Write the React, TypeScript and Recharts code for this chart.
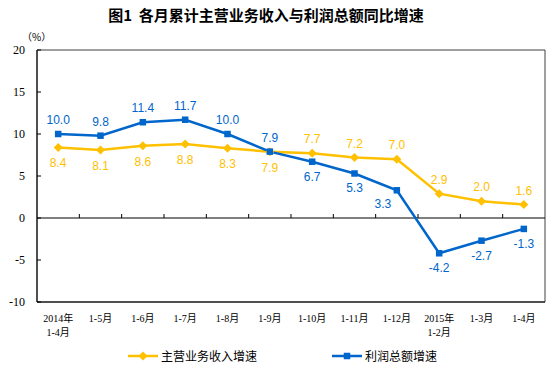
import React from 'react';
import {
  LineChart,
  Line,
  XAxis,
  YAxis,
  ReferenceLine,
  ReferenceArea,
  Legend,
  LabelList,
} from 'recharts';

const categories = [
  '2014年\n1-4月',
  '1-5月',
  '1-6月',
  '1-7月',
  '1-8月',
  '1-9月',
  '1-10月',
  '1-11月',
  '1-12月',
  '2015年\n1-2月',
  '1-3月',
  '1-4月',
];
const revenueGrowth = [8.4, 8.1, 8.6, 8.8, 8.3, 7.9, 7.7, 7.2, 7.0, 2.9, 2.0, 1.6];
const profitGrowth = [10.0, 9.8, 11.4, 11.7, 10.0, 7.9, 6.7, 5.3, 3.3, -4.2, -2.7, -1.3];
const yTicks = [-10, -5, 0, 5, 10, 15, 20];
const revenueLabelSide = ['below', 'below', 'below', 'below', 'below', 'below', 'above', 'above', 'above', 'above', 'above', 'above'];
const profitLabelSide = ['above', 'above', 'above', 'above', 'above', 'above', 'below', 'below', 'belowLeft', 'below', 'below', 'below'];

const seriesNames = { revenue: '主营业务收入增速', profit: '利润总额增速' };

const YELLOW = '#FFC000';
const BLUE = '#0066CC';

const data = categories.map((name, i) => ({
  name,
  revenue: revenueGrowth[i],
  profit: profitGrowth[i],
}));

const Diamond = (props: any) => {
  const { cx, cy } = props;
  if (cx == null || cy == null) return null;
  const r = 4.5;
  return (
    <path
      d={`M${cx},${cy - r} L${cx + r},${cy} L${cx},${cy + r} L${cx - r},${cy} Z`}
      fill={YELLOW}
      stroke="none"
    />
  );
};

const Square = (props: any) => {
  const { cx, cy } = props;
  if (cx == null || cy == null) return null;
  const s = 6.5;
  return <rect x={cx - s / 2} y={cy - s / 2} width={s} height={s} fill={BLUE} />;
};

const makeLabel = (sides: string[], color: string, aboveDy: number, belowDy: number) => (props: any) => {
  const { x, y, value, index } = props;
  const side = sides[index];
  let dx = 0;
  let dy = side === 'above' ? aboveDy : belowDy;
  if (side === 'belowLeft') {
    dx = -14;
    dy = 14;
  }
  return (
    <text
      x={x + dx}
      y={y + dy}
      textAnchor="middle"
      dominantBaseline="central"
      fill={color}
      fontSize={12}
      fontFamily="'Liberation Sans', Arial, sans-serif"
    >
      {Number(value).toFixed(1)}
    </text>
  );
};

const YTick = (props: any) => {
  const { x, y, payload } = props;
  return (
    <g>
      <text
        x={x}
        y={y}
        textAnchor="end"
        dominantBaseline="central"
        fontSize={12}
        fill="#000"
        fontFamily="'Liberation Serif', 'Times New Roman', serif"
      >
        {payload.value}
      </text>
      <line x1={x + 12} x2={x + 16} y1={y} y2={y} stroke="#000" strokeWidth={1} />
    </g>
  );
};

const XTick = (props: any) => {
  const { x, y, payload } = props;
  const lines = String(payload.value).split('\n');
  return (
    <g>
      {lines.map((t, i) => (
        <text
          key={i}
          x={x}
          y={y + 16 + i * 14}
          textAnchor="middle"
          dominantBaseline="central"
          fontSize={10}
          fill="#000"
          fontFamily="'Liberation Serif', 'Times New Roman', 'Noto Sans CJK SC', serif"
        >
          {t}
        </text>
      ))}
    </g>
  );
};

const ZeroLine = (props: any) => {
  const { x1, y1, x2, y2 } = props;
  if (x1 == null) return null;
  const n = categories.length;
  const step = (x2 - x1) / n;
  const ticks = [];
  for (let i = 1; i < n; i++) {
    const tx = x1 + step * i;
    ticks.push(<line key={i} x1={tx} x2={tx} y1={y1} y2={y1 - 4} stroke="#000" strokeWidth={1} />);
  }
  return (
    <g>
      <line x1={x1} y1={y1} x2={x2} y2={y2} stroke="#000" strokeWidth={1} />
      {ticks}
    </g>
  );
};

const LegendContent = (props: any) => {
  const payload = props.payload || [];
  const lefts = [128, 332];
  return (
    <div style={{ position: 'relative', height: 26, width: 556 }}>
      {payload.map((p: any, i: number) => {
        const isRevenue = p.dataKey === 'revenue';
        const color = isRevenue ? YELLOW : BLUE;
        return (
          <div
            key={i}
            style={{
              position: 'absolute',
              left: lefts[i],
              top: 5,
              height: 14,
              display: 'flex',
              alignItems: 'center',
              whiteSpace: 'nowrap',
            }}
          >
            <svg width={32} height={14} style={{ display: 'block' }}>
              <line x1={0} x2={30} y1={7} y2={7} stroke={color} strokeWidth={2.5} />
              {isRevenue ? (
                <path d="M15,2.5 L19.5,7 L15,11.5 L10.5,7 Z" fill={color} />
              ) : (
                <rect x={11.75} y={3.75} width={6.5} height={6.5} fill={color} />
              )}
            </svg>
            <span
              style={{
                fontSize: 12,
                color: '#000',
                fontFamily: "'Noto Sans CJK SC', sans-serif",
                lineHeight: '14px',
                marginLeft: 1,
              }}
            >
              {p.value}
            </span>
          </div>
        );
      })}
    </div>
  );
};

export default function App() {
  return (
    <div style={{ position: 'absolute', left: 0, top: 0, width: 556, height: 370, background: '#fff' }}>
      <div
        style={{
          position: 'absolute',
          left: 0,
          top: 5,
          width: 532,
          textAlign: 'center',
          fontSize: 15,
          fontWeight: 700,
          lineHeight: '20px',
          fontFamily: "'Noto Sans CJK SC', sans-serif",
          color: '#000',
          zIndex: 2,
        }}
      >
        图1&nbsp;&nbsp;各月累计主营业务收入与利润总额同比增速
      </div>
      <div
        style={{
          position: 'absolute',
          left: 22,
          top: 30,
          fontSize: 10,
          lineHeight: '14px',
          fontFamily: "'Noto Sans CJK SC', sans-serif",
          color: '#000',
          zIndex: 2,
        }}
      >
        （%）
      </div>
      <LineChart
        width={556}
        height={370}
        data={data}
        margin={{ top: 50, right: 11, left: 0, bottom: 0 }}
      >
        <ReferenceArea y1={-10} y2={20} fill="none" stroke="#404040" strokeWidth={1} ifOverflow="visible" />
        <XAxis
          dataKey="name"
          scale="band"
          interval={0}
          height={42}
          tickLine={false}
          tickSize={0}
          tickMargin={0}
          axisLine={{ stroke: '#000', strokeWidth: 1 }}
          tick={<XTick />}
        />
        <YAxis
          domain={[-10, 20]}
          ticks={yTicks}
          width={37}
          tickLine={false}
          tickSize={0}
          tickMargin={12}
          axisLine={{ stroke: '#000', strokeWidth: 1 }}
          tick={<YTick />}
          interval={0}
        />
        <ReferenceLine y={0} shape={<ZeroLine />} ifOverflow="visible" />
        <Legend verticalAlign="bottom" content={<LegendContent />} wrapperStyle={{ left: 0, width: 556 }} />
        <Line
          type="linear"
          dataKey="revenue"
          name={seriesNames.revenue}
          stroke={YELLOW}
          strokeWidth={2.5}
          dot={<Diamond />}
          activeDot={false}
          isAnimationActive={false}
        >
          <LabelList dataKey="revenue" content={makeLabel(revenueLabelSide, YELLOW, -14, 16)} />
        </Line>
        <Line
          type="linear"
          dataKey="profit"
          name={seriesNames.profit}
          stroke={BLUE}
          strokeWidth={2.5}
          dot={<Square />}
          activeDot={false}
          isAnimationActive={false}
        >
          <LabelList dataKey="profit" content={makeLabel(profitLabelSide, BLUE, -14, 15)} />
        </Line>
      </LineChart>
    </div>
  );
}
